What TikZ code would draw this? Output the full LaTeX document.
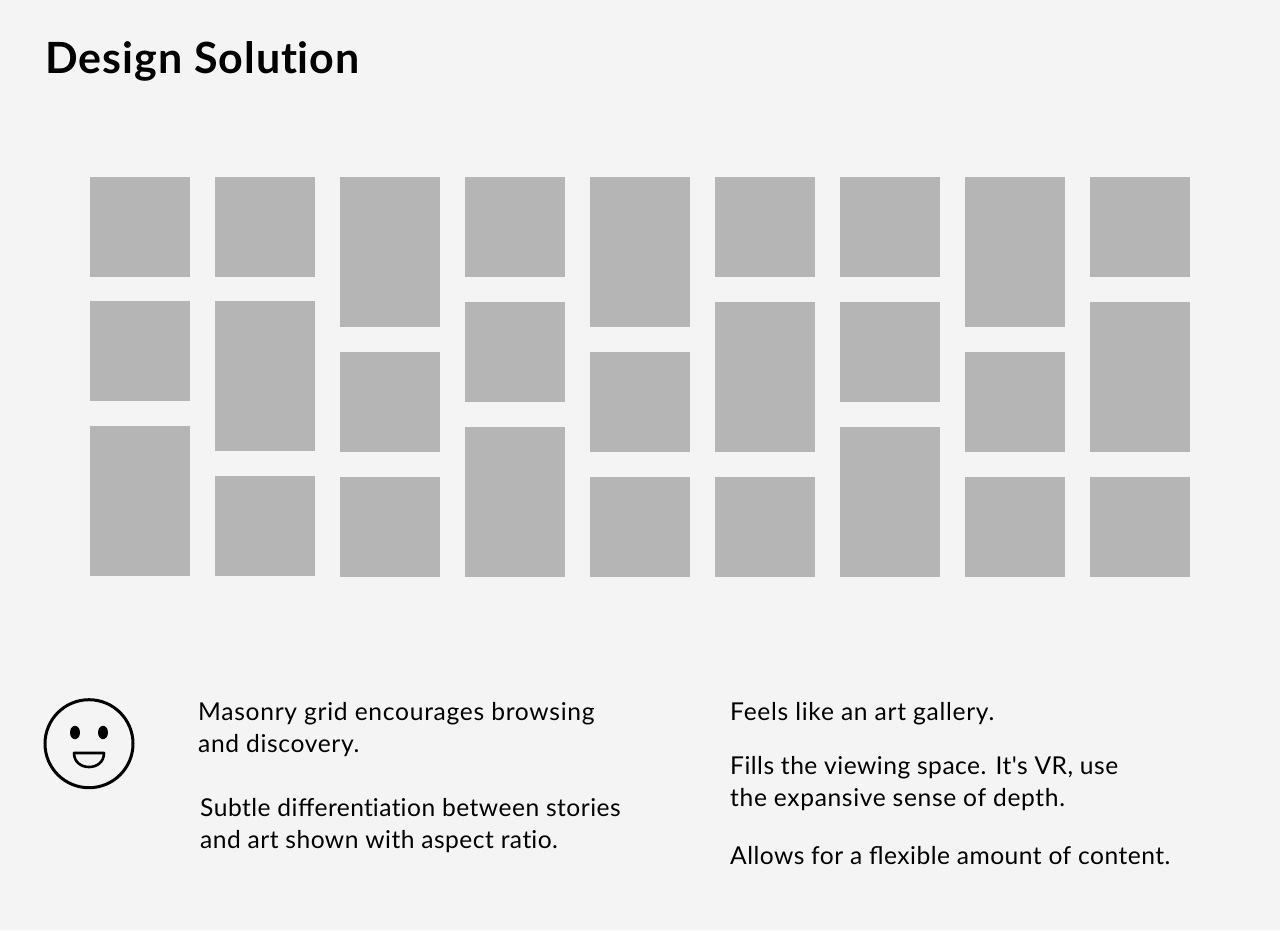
\documentclass[tikz,border=0pt]{standalone}
\usepackage{fontspec}
\setmainfont{Lato}
\newfontfamily\bodywide[LetterSpace=2.9]{Lato}
\newfontfamily\bodymid[LetterSpace=2.6]{Lato}
\newfontfamily\bodytight[LetterSpace=1.95]{Lato}
\newfontfamily\titlefont[LetterSpace=2.5]{Lato}
\definecolor{bg}{HTML}{F4F4F4}
\definecolor{tile}{HTML}{B5B5B5}
\tikzset{x=1pt,y=-1pt,
 body/.style={anchor=base west,inner sep=0pt,font=\fontsize{24.6}{32}\selectfont,text=black},
 face/.style={draw=black,line width=3pt},
 mouth/.style={draw=black,line width=2.6pt,line join=round}}
\newcommand{\tl}[3]{\fill[tile] (#1,#2) rectangle (#1+100,#3);}
\newcommand{\nolig}{\kern0pt }
\begin{document}
\begin{tikzpicture}
\fill[bg] (0,0) rectangle (1280,930);
\useasboundingbox (0,0) rectangle (1280,930);
\node[anchor=base west,inner sep=0pt,font=\titlefont\fontsize{43}{48}\selectfont\bfseries] (title) at (45,73.5) {Design Solut\nolig ion};
\tl{90}{177}{277}\tl{90}{301}{401}\tl{90}{426}{576}
\tl{215}{177}{277}\tl{215}{301}{451}\tl{215}{476}{576}
\tl{340}{177}{327}\tl{340}{352}{452}\tl{340}{477}{577}
\tl{465}{177}{277}\tl{465}{302}{402}\tl{465}{427}{577}
\tl{590}{177}{327}\tl{590}{352}{452}\tl{590}{477}{577}
\tl{715}{177}{277}\tl{715}{302}{452}\tl{715}{477}{577}
\tl{840}{177}{277}\tl{840}{302}{402}\tl{840}{427}{577}
\tl{965}{177}{327}\tl{965}{352}{452}\tl{965}{477}{577}
\tl{1090}{177}{277}\tl{1090}{302}{452}\tl{1090}{477}{577}
\draw[face] (89,743.7) circle (44);
\fill (75,732.5) ellipse (5 and 6.7);
\fill (103,732.5) ellipse (5 and 6.7);
\draw[mouth] (74,753) -- (104,753) .. controls (104,762) and (97,767) .. (89,767) .. controls (81,767) and (74,762) .. (74,753) -- cycle;
\node[body] (a1) at (198,720) {\bodywide Masonry grid encourages browsing};
\node[body] (a2) at (198,752) {\bodymid and discovery.};
\node[body] (a3) at (200,816) {\bodytight Subtle differen\nolig t\nolig iat\nolig ion between stories};
\node[body] (a4) at (200,848) {\bodytight and art shown with aspect rat\nolig io.};
\node[body] (b1) at (730,720) {\bodywide Feels like an art gallery.};
\node[body] (b2) at (730,774) {\bodytight Fills the viewing space. It's VR, use};
\node[body] (b3) at (730,806) {\bodymid the expansive sense of depth.};
\node[body] (b4) at (730,864) {\bodytight Allows for a flexible amount of content.};
\end{tikzpicture}
\end{document}
